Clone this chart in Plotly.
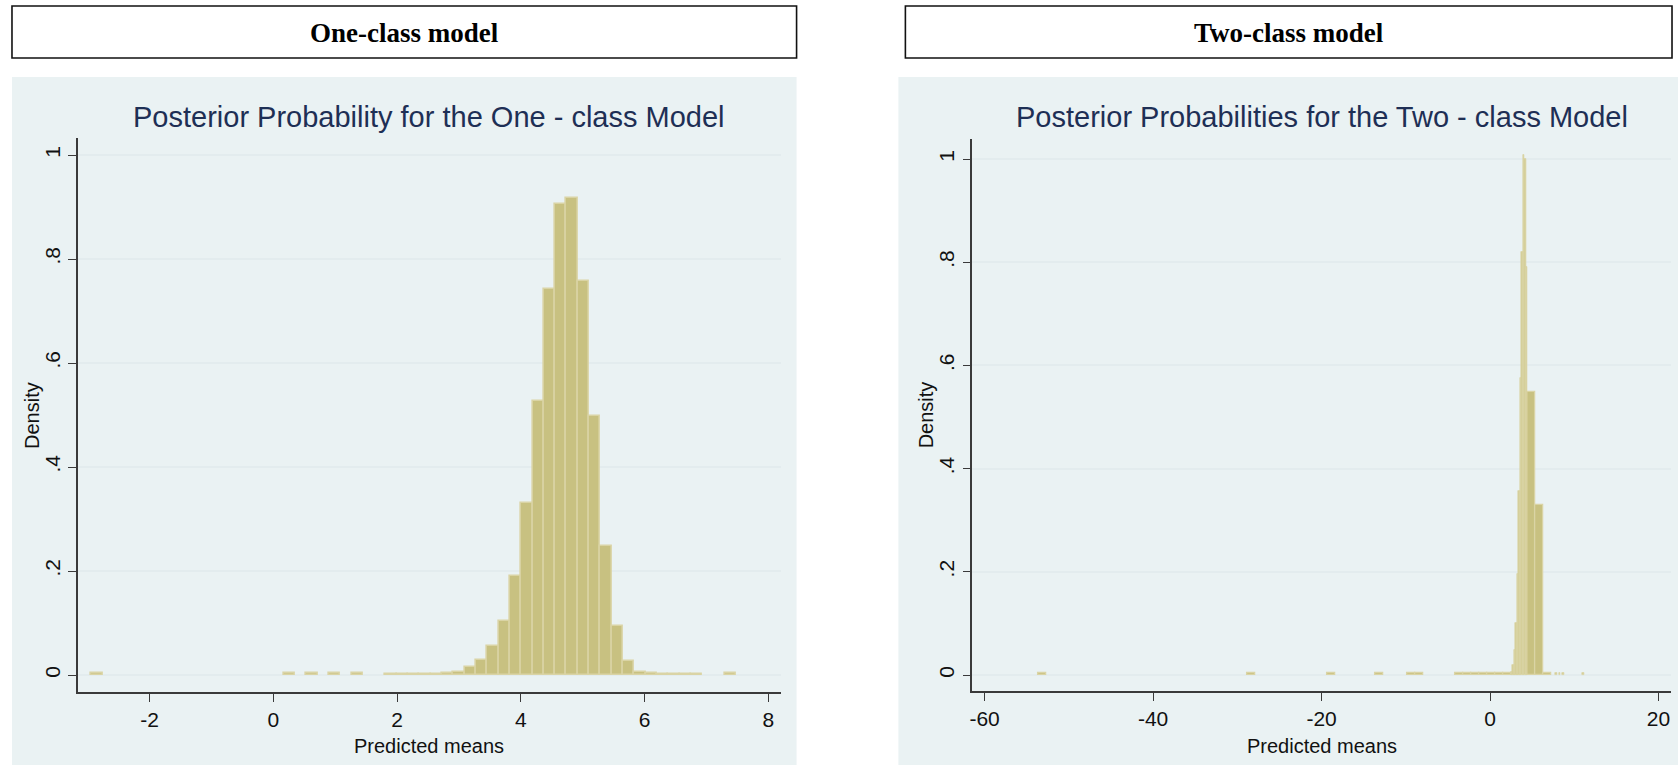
import plotly.graph_objects as go

# ---------------- data ----------------
# One-class model histogram (bin centres, density heights), bin width
left_bin_width = 0.1828
left_centers = [-2.851, 0.257, 0.623, 0.988, 1.354,
                1.902, 2.085, 2.268, 2.451, 2.633, 2.816, 2.999, 3.182, 3.365,
                3.548, 3.730, 3.913, 4.096, 4.279, 4.462, 4.645, 4.827, 5.010,
                5.193, 5.376, 5.559, 5.742, 5.924, 6.107, 6.290, 6.473, 6.656,
                6.839, 7.387]
left_heights = [0.003, 0.003, 0.003, 0.003, 0.003,
                0.002, 0.002, 0.002, 0.002, 0.002, 0.003, 0.006, 0.015, 0.029,
                0.056, 0.104, 0.190, 0.331, 0.527, 0.743, 0.905, 0.918, 0.757,
                0.498, 0.248, 0.094, 0.026, 0.005, 0.003, 0.002, 0.002, 0.002,
                0.002, 0.003]

# Two-class model: wide-bin component
right_wide_width = 0.95
right_wide_centers = [-53.10, -28.40, -18.90, -13.20, -9.40, -8.45,
                      -3.70, -2.75, -1.80, -0.85, 0.10, 1.05, 2.00, 2.95,
                      4.855, 5.805, 6.755]
right_wide_heights = [0.004, 0.004, 0.004, 0.004, 0.004, 0.004,
                      0.003, 0.003, 0.003, 0.003, 0.003, 0.003, 0.003, 0.004,
                      0.549, 0.329, 0.003]

# Two-class model: narrow-bin component
right_narrow_width = 0.18
right_narrow_centers = [2.55, 2.73, 2.91, 3.09, 3.27, 3.45, 3.63, 3.81, 3.99,
                        4.17, 4.35, 7.86, 8.26, 8.66, 11.06]
right_narrow_heights = [0.006, 0.019, 0.048, 0.100, 0.196, 0.356, 0.575, 0.820,
                        1.008, 1.000, 0.790, 0.003, 0.003, 0.003, 0.003]

left_xticks = [-2, 0, 2, 4, 6, 8]
left_xticktext = ["-2", "0", "2", "4", "6", "8"]
right_xticks = [-60, -40, -20, 0, 20]
right_xticktext = ["-60", "-40", "-20", "0", "20"]
yticks = [0, 0.2, 0.4, 0.6, 0.8, 1.0]
yticktext = ["0", ".2", ".4", ".6", ".8", "1"]

box_titles = ["One-class model", "Two-class model"]
plot_titles = ["Posterior Probability for the One - class Model",
               "Posterior Probabilities for the Two - class Model"]
x_title = "Predicted means"
y_title = "Density"

# ---------------- style ----------------
W, H = 1678, 765
FONT = "Liberation Sans Narrow, Arial Narrow, Liberation Sans, Arial, sans-serif"
SERIF = "Liberation Serif, Times New Roman, serif"
FILL = "#C8C181"
EDGE = "#DAD4A5"
FILL2 = "#D3CD97"
PANEL = "#EAF2F3"
GRID = "#E3ECEE"
AXIS = "#3A3A3A"
TITLE_C = "#1E2F55"


def px(x):
    return x / W


def py(y):
    return 1 - y / H


fig = go.Figure()
fig.add_trace(go.Bar(x=left_centers, y=left_heights, width=left_bin_width,
                     xaxis="x", yaxis="y",
                     marker=dict(color=FILL, line=dict(color=EDGE, width=1.5))))
fig.add_trace(go.Bar(x=right_wide_centers, y=right_wide_heights, width=right_wide_width,
                     xaxis="x2", yaxis="y2",
                     marker=dict(color=FILL, line=dict(color=EDGE, width=1.3))))
fig.add_trace(go.Bar(x=right_narrow_centers, y=right_narrow_heights, width=right_narrow_width,
                     xaxis="x2", yaxis="y2",
                     marker=dict(color=FILL2, line=dict(color=EDGE, width=0.8))))

axis_common = dict(showline=True, linecolor=AXIS, linewidth=1.5, ticks="outside",
                   ticklen=8, tickwidth=1.3, tickcolor=AXIS, zeroline=False,
                   tickfont=dict(family=FONT, size=21, color="#111111"), fixedrange=True)

plot_boxes = [(75, 779, 138, 692), (971, 1671, 139, 691)]
xranges = [[-3.16, 8.2], [-61.46, 21.48]]
yranges = [[-0.0327, 1.0327], [-0.031, 1.0388]]

layout = dict(width=W, height=H, margin=dict(l=0, r=0, t=0, b=0),
              paper_bgcolor="white", plot_bgcolor="white", showlegend=False,
              barmode="overlay", bargap=0)

for i, (x0, x1, y0, y1) in enumerate(plot_boxes):
    sx = "" if i == 0 else "2"
    layout["xaxis" + sx] = dict(axis_common, domain=[px(x0), px(x1)], range=xranges[i],
                                tickmode="array",
                                tickvals=left_xticks if i == 0 else right_xticks,
                                ticktext=left_xticktext if i == 0 else right_xticktext,
                                showgrid=False, anchor="y" + sx)
    layout["yaxis" + sx] = dict(axis_common, domain=[py(y1), py(y0)], range=yranges[i],
                                tickmode="array", tickvals=yticks, ticktext=yticktext,
                                tickangle=-90, showgrid=True, gridcolor=GRID, gridwidth=1.5,
                                anchor="x" + sx)

fig.update_layout(**layout)

panels = [(9, 795), (897, 1678)]
boxes = [(9, 795), (904, 1672)]
shapes = []
annotations = []
for i in range(2):
    pl, pr = panels[i]
    shapes.append(dict(type="rect", xref="paper", yref="paper", layer="below",
                       x0=px(pl), x1=px(pr), y0=py(765), y1=py(77),
                       fillcolor=PANEL, line=dict(width=0)))
    bl, br = boxes[i]
    shapes.append(dict(type="rect", xref="paper", yref="paper",
                       x0=px(bl), x1=px(br), y0=py(58), y1=py(6),
                       fillcolor="rgba(0,0,0,0)", line=dict(color="#111111", width=1.6)))
    annotations.append(dict(xref="paper", yref="paper", x=px((bl + br) / 2), y=py(33),
                            text="<b>%s</b>" % box_titles[i], showarrow=False,
                            font=dict(family=SERIF, size=27, color="black"),
                            xanchor="center", yanchor="middle"))
    x0, x1, y0, y1 = plot_boxes[i]
    annotations.append(dict(xref="paper", yref="paper", x=px((x0 + x1) / 2), y=py(117),
                            text=plot_titles[i], showarrow=False,
                            font=dict(family=FONT, size=29, color=TITLE_C),
                            xanchor="center", yanchor="middle"))
    annotations.append(dict(xref="paper", yref="paper", x=px((x0 + x1) / 2), y=py(746),
                            text=x_title, showarrow=False,
                            font=dict(family=FONT, size=20, color="#111111"),
                            xanchor="center", yanchor="middle"))
    annotations.append(dict(xref="paper", yref="paper", x=px(x0 - 46), y=py((y0 + y1) / 2),
                            text=y_title, showarrow=False, textangle=-90,
                            font=dict(family=FONT, size=20, color="#111111"),
                            xanchor="center", yanchor="middle"))

fig.update_layout(shapes=shapes, annotations=annotations)
fig.write_html("out.html")
